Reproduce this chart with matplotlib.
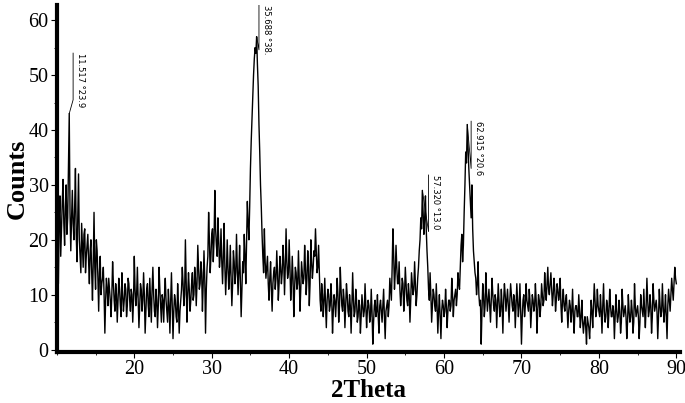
import numpy as np
import matplotlib.pyplot as plt
from matplotlib.ticker import MultipleLocator

# XRD scan, 0.1 deg step from 10.1 to 90.0
counts = [
    26, 12, 24, 28, 17, 22, 27, 31, 23, 19, 26, 30, 21, 24, 33, 43, 25, 18, 24, 29,
    23, 20, 26, 33, 21, 16, 24, 32, 20, 17, 14, 23, 19, 15, 21, 22, 14, 17, 19, 21,
    16, 12, 18, 20, 14, 9, 16, 25, 15, 11, 20, 18, 13, 7, 14, 17, 10, 12, 13, 15,
    10, 3, 9, 13, 11, 8, 13, 11, 9, 6, 10, 16, 12, 9, 7, 12, 10, 5, 9, 13,
    11, 8, 6, 14, 10, 7, 9, 12, 11, 6, 8, 13, 12, 9, 7, 11, 10, 5, 9, 17,
    11, 8, 10, 15, 9, 4, 8, 12, 11, 7, 9, 14, 10, 3, 7, 11, 12, 8, 6, 13,
    9, 5, 11, 15, 10, 7, 6, 11, 9, 4, 8, 15, 11, 8, 5, 10, 9, 5, 10, 13,
    9, 7, 5, 11, 8, 3, 9, 14, 8, 2, 7, 10, 9, 6, 5, 12, 8, 3, 7, 9,
    11, 15, 12, 8, 10, 20, 13, 5, 10, 14, 11, 7, 9, 12, 14, 9, 10, 15, 13, 8,
    12, 19, 15, 11, 12, 16, 14, 7, 12, 18, 13, 3, 11, 15, 17, 25, 20, 14, 17, 21,
    22, 16, 20, 29, 22, 19, 17, 24, 20, 15, 17, 22, 16, 12, 17, 23, 15, 10, 14, 20,
    15, 11, 14, 19, 13, 8, 12, 18, 16, 12, 14, 21, 15, 10, 14, 19, 12, 6, 11, 16,
    14, 21, 17, 12, 19, 27, 23, 20, 26, 33, 38, 42, 46, 50, 53, 55, 54, 57, 52, 48,
    41, 36, 30, 26, 21, 17, 14, 22, 16, 13, 15, 17, 12, 9, 13, 16, 11, 7, 12, 14,
    15, 11, 13, 18, 14, 9, 12, 17, 15, 12, 14, 19, 16, 10, 15, 22, 16, 13, 14, 20,
    15, 9, 12, 17, 13, 6, 11, 15, 14, 11, 12, 18, 13, 7, 11, 16, 14, 12, 13, 19,
    15, 10, 13, 18, 15, 8, 12, 20, 16, 13, 15, 18, 17, 22, 18, 14, 15, 19, 14, 9,
    7, 12, 10, 6, 9, 13, 8, 4, 9, 11, 10, 7, 8, 12, 9, 3, 7, 10, 9, 6,
    9, 13, 10, 5, 8, 15, 11, 8, 7, 11, 9, 4, 8, 12, 10, 7, 6, 10, 8, 3,
    8, 14, 9, 6, 7, 11, 9, 5, 6, 9, 8, 3, 6, 10, 8, 6, 7, 12, 8, 4,
    7, 9, 8, 5, 6, 11, 7, 1, 5, 8, 9, 6, 7, 10, 6, 3, 8, 9, 7, 5,
    8, 11, 6, 2, 7, 8, 9, 6, 8, 13, 11, 9, 15, 22, 17, 11, 14, 19, 15, 12,
    12, 16, 11, 8, 10, 13, 12, 7, 10, 15, 12, 9, 8, 12, 10, 5, 9, 14, 12, 10,
    11, 16, 12, 8, 10, 13, 15, 18, 20, 24, 22, 29, 25, 21, 24, 28, 22, 18, 15, 11,
    9, 14, 10, 5, 8, 11, 10, 8, 7, 12, 8, 3, 7, 10, 6, 2, 7, 9, 8, 6,
    7, 11, 8, 4, 7, 9, 9, 7, 8, 13, 10, 6, 9, 10, 11, 8, 10, 14, 12, 11,
    15, 19, 21, 16, 19, 25, 30, 36, 34, 41, 37, 33, 30, 27, 24, 30, 22, 18, 16, 14,
    13, 10, 12, 16, 10, 8, 9, 1, 7, 12, 10, 6, 8, 14, 10, 7, 9, 11, 8, 5,
    9, 13, 10, 8, 7, 10, 9, 4, 8, 12, 9, 6, 7, 11, 8, 3, 9, 12, 10, 7,
    9, 11, 8, 5, 9, 12, 10, 8, 7, 10, 9, 4, 8, 12, 9, 6, 8, 12, 7, 1,
    6, 9, 10, 6, 8, 12, 9, 8, 7, 11, 9, 4, 7, 10, 9, 7, 8, 12, 9, 3,
    7, 10, 9, 6, 8, 12, 10, 8, 9, 14, 11, 9, 12, 15, 11, 10, 12, 14, 11, 8,
    10, 13, 11, 7, 9, 12, 11, 9, 10, 13, 8, 5, 9, 11, 8, 7, 9, 10, 7, 4,
    7, 9, 8, 5, 7, 11, 6, 3, 7, 8, 8, 6, 6, 10, 7, 4, 6, 9, 5, 3,
    5, 6, 4, 1, 6, 5, 4, 2, 5, 9, 7, 4, 8, 12, 9, 6, 7, 11, 8, 7,
    6, 10, 7, 3, 8, 12, 7, 5, 6, 9, 8, 4, 7, 11, 8, 6, 6, 8, 7, 2,
    6, 10, 7, 5, 6, 9, 7, 3, 5, 11, 8, 6, 7, 8, 6, 2, 5, 10, 7, 5,
    6, 9, 7, 3, 5, 12, 8, 6, 7, 8, 6, 2, 5, 10, 8, 7, 6, 11, 7, 4,
    8, 13, 9, 6, 7, 10, 8, 3, 6, 12, 9, 7, 8, 9, 7, 2, 6, 11, 8, 6,
    7, 12, 8, 5, 7, 10, 6, 2, 8, 11, 9, 7, 10, 13, 11, 9, 12, 15, 13, 12,
]
two_theta = np.linspace(10.1, 90.0, len(counts))

# peak labels: peak tip, leader line x, line bottom / top, text
peak_x = [11.6, 35.8, 57.2, 63.0]
peak_y = [43, 57, 29, 41]
lead_x = [12.1, 36.1, 58.0, 63.5]
lead_lo = [45.5, 54.6, 21.5, 33.0]
lead_hi = [54.0, 62.7, 31.8, 41.6]
peak_labels = ["11.517 °23.9", "35.688 °38.", "57.320 °13.0", "62.915 °20.6"]

fig = plt.figure(figsize=(6.85, 4.03), dpi=100)
ax = fig.add_axes([0.083, 0.127, 0.910, 0.861])

ax.plot(two_theta, counts, color="black", lw=1.0)

for px, py, lx, lo, hi, lab in zip(peak_x, peak_y, lead_x, lead_lo, lead_hi, peak_labels):
    ax.plot([px, lx, lx], [py, lo, hi], color="black", lw=0.6)
    ax.text(lx + 0.35, hi, lab, rotation=-90, ha="left", va="top",
            fontsize=6, family="DejaVu Sans")

ax.set_xlim(10, 90.5)
ax.set_ylim(-0.4, 62.8)
ax.xaxis.set_major_locator(MultipleLocator(10))
ax.xaxis.set_minor_locator(MultipleLocator(5))
ax.yaxis.set_major_locator(MultipleLocator(10))
ax.yaxis.set_minor_locator(MultipleLocator(5))
ax.set_xticks([20, 30, 40, 50, 60, 70, 80, 90])

for s in ["top", "right"]:
    ax.spines[s].set_visible(False)
for s in ["left", "bottom"]:
    ax.spines[s].set_linewidth(3)

ax.tick_params(which="major", direction="out", length=4, width=0.8,
               labelsize=14.5, pad=2)
ax.tick_params(which="minor", direction="out", length=2.5, width=0.6)
for lab in ax.get_xticklabels() + ax.get_yticklabels():
    lab.set_family("Liberation Serif")

ax.set_xlabel("2Theta", family="Liberation Serif", fontweight="bold",
              fontsize=18, labelpad=0)
ax.set_ylabel("Counts", family="Liberation Serif", fontweight="bold",
              fontsize=19, labelpad=0)

fig.savefig("out.png", dpi=100)
